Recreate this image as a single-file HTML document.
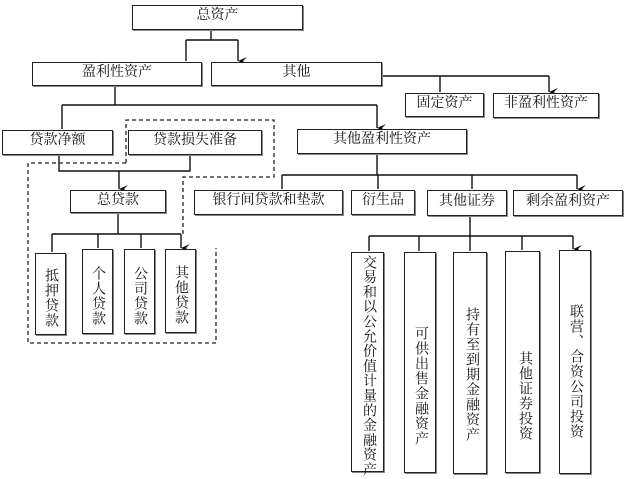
<!DOCTYPE html>
<html><head><meta charset="utf-8"><style>
body{margin:0;width:625px;height:479px;background:#fff;position:relative;overflow:hidden;font-family:"Liberation Serif","Noto Serif CJK SC","Noto Sans CJK SC",serif;}
.b{position:absolute;border:1.5px solid #222;box-sizing:border-box;background:#fff;text-align:center;font-size:14px;color:#111;box-shadow:1px 1px 0 #888;}
.v{writing-mode:vertical-rl;text-orientation:upright;letter-spacing:1px;display:flex;align-items:flex-start;justify-content:center;line-height:30px;white-space:nowrap;}
svg{position:absolute;left:0;top:0;}
</style></head><body>
<svg width="625" height="479" viewBox="0 0 625 479">
<defs><marker id="a" markerWidth="8" markerHeight="10" refX="4" refY="9" orient="auto-start-reverse" markerUnits="userSpaceOnUse"><path d="M0,0 L4,9 L8,0 L4,4 Z" fill="#111"/></marker></defs>
<g stroke="#111" stroke-width="1.4" fill="none">
<path d="M211,30V40M186,40H238"/>
<path d="M186,40V61M238,40V61" marker-end="url(#a)"/>
<path d="M382,76H549"/>
<path d="M440,76V92M549,76V92" marker-end="url(#a)"/>
<path d="M115,86V105M62,105H377"/>
<path d="M62,105V129M377,105V128" marker-end="url(#a)"/>
<path d="M59,155V171H190V155"/>
<path d="M119,171V189" marker-end="url(#a)"/>
<path d="M118,213V234M52,234H181"/>
<path d="M52,234V252M98,234V248M141,234V248M181,234V248" marker-end="url(#a)"/>
<path d="M377,154V175M282,175H577"/>
<path d="M282,175V189M378,175V189M472,175V189M577,175V189" marker-end="url(#a)"/>
<path d="M470,216V236M369,236H573"/>
<path d="M369,236V251M419,236V251M470,236V251M522,236V250M573,236V249" marker-end="url(#a)"/>
</g>
<g stroke="#222" stroke-width="1.3" fill="none" stroke-dasharray="4,3">
<path d="M126,163V120H274V177H183V236"/>
<path d="M126,163H28V343H216V248"/>
</g>
</svg>
<div class="b" style="left:132px;top:5px;width:171px;height:25px;line-height:20px">总资产</div>
<div class="b" style="left:32px;top:62px;width:170px;height:24px;line-height:20px">盈利性资产</div>
<div class="b" style="left:211px;top:62px;width:171px;height:24px;line-height:20px">其他</div>
<div class="b" style="left:405px;top:93px;width:79px;height:24px;line-height:20px">固定资产</div>
<div class="b" style="left:493px;top:93px;width:106px;height:25px;line-height:20px">非盈利性资产</div>
<div class="b" style="left:2px;top:130px;width:111px;height:25px;line-height:20px">贷款净额</div>
<div class="b" style="left:128px;top:130px;width:134px;height:25px;line-height:20px">贷款损失准备</div>
<div class="b" style="left:297px;top:129px;width:170px;height:25px;line-height:20px">其他盈利性资产</div>
<div class="b" style="left:70px;top:190px;width:96px;height:23px;line-height:20px">总贷款</div>
<div class="b" style="left:194px;top:190px;width:149px;height:25px;line-height:20px">银行间贷款和垫款</div>
<div class="b" style="left:351px;top:190px;width:64px;height:25px;line-height:20px">衍生品</div>
<div class="b" style="left:427px;top:190px;width:80px;height:26px;line-height:22px">其他证券</div>
<div class="b" style="left:513px;top:190px;width:110px;height:26px;line-height:22px">剩余盈利资产</div>
<div class="b v" style="left:35px;top:253px;width:31px;height:82px;padding-top:8px">抵押贷款</div>
<div class="b v" style="left:82px;top:249px;width:31px;height:85px;padding-top:8px">个人贷款</div>
<div class="b v" style="left:124px;top:249px;width:31px;height:85px;padding-top:8px">公司贷款</div>
<div class="b v" style="left:165px;top:249px;width:31px;height:84px;padding-top:8px">其他贷款</div>
<div class="b v" style="left:351px;top:252px;width:33px;height:220px;padding-top:8px;letter-spacing:0.8px">交易和以公允价值计量的金融资产</div>
<div class="b v" style="left:404px;top:252px;width:32px;height:221px;padding-top:46px">可供出售金融资产</div>
<div class="b v" style="left:453px;top:252px;width:34px;height:222px;padding-top:22px">持有至到期金融资产</div>
<div class="b v" style="left:505px;top:251px;width:35px;height:222px;padding-top:68px">其他证券投资</div>
<div class="b v" style="left:559px;top:250px;width:32px;height:224px;padding-top:18px">联营、合资公司投资</div>
</body></html>
